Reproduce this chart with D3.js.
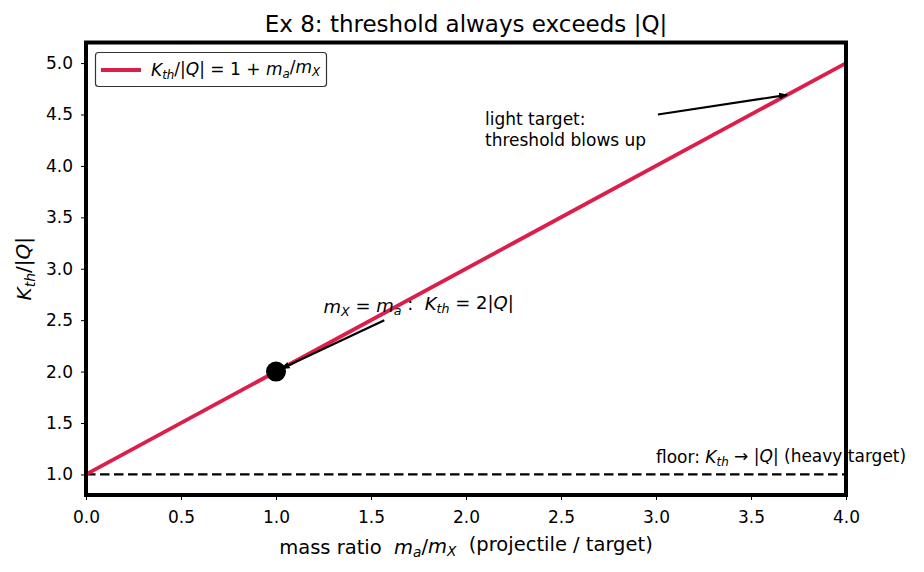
<!DOCTYPE html>
<html>
<head>
<meta charset="utf-8">
<script src="https://cdn.jsdelivr.net/npm/d3@7"></script>
<style>
  body { margin: 0; background: #fff; }
  text { font-family: "DejaVu Sans", sans-serif; fill: #000; white-space: pre; }
  .it { font-style: italic; }
</style>
</head>
<body>
<div class="chart"></div>
<script>
// data
let ratio = [0, 4];
let kth = [1, 5];
let floorVal = [1, 1];
let xTicks = [0, 0.5, 1, 1.5, 2, 2.5, 3, 3.5, 4];
let yTicks = [1, 1.5, 2, 2.5, 3, 3.5, 4, 4.5, 5];
let markPoint = [1, 2];

let width = 924, height = 572;
let margin = {top: 42.5, right: 78, bottom: 77, left: 86};

let svg = d3.select(".chart").append("svg")
    .attr("width", width)
    .attr("height", height);

let xScale = d3.scaleLinear().domain([0, 4]).range([margin.left, width - margin.right]);
let yScale = d3.scaleLinear().domain([0.8, 5.2]).range([height - margin.bottom, margin.top]);

let defs = svg.append("defs");
defs.append("marker")
    .attr("id", "head")
    .attr("viewBox", "0 0 10 10")
    .attr("refX", 9).attr("refY", 5)
    .attr("markerWidth", 4).attr("markerHeight", 4)
    .attr("markerUnits", "strokeWidth")
    .attr("orient", "auto")
    .append("path")
    .attr("d", "M0,1 L10,5 L0,9 Z")
    .attr("fill", "#000");

let line = d3.line().x(d => xScale(d[0])).y(d => yScale(d[1]));

// floor dashed line
svg.append("path")
    .datum(ratio.map((r, i) => [r, floorVal[i]]))
    .attr("d", line)
    .attr("fill", "none")
    .attr("stroke", "#000")
    .attr("stroke-width", 2.2)
    .attr("stroke-dasharray", "9.5,4.5");

// main line
svg.append("path")
    .datum(ratio.map((r, i) => [r, kth[i]]))
    .attr("d", line)
    .attr("fill", "none")
    .attr("stroke", "#dc1e4b")
    .attr("stroke-width", 3.8);

// marker at mX = ma
svg.append("circle")
    .attr("cx", xScale(markPoint[0]))
    .attr("cy", yScale(markPoint[1]))
    .attr("r", 10)
    .attr("fill", "#000");

// axes
let xAxis = d3.axisBottom(xScale).tickValues(xTicks).tickFormat(d3.format(".1f")).tickSize(5).tickPadding(11);
let yAxis = d3.axisLeft(yScale).tickValues(yTicks).tickFormat(d3.format(".1f")).tickSize(5).tickPadding(8);

let gx = svg.append("g")
    .attr("transform", "translate(0," + (height - margin.bottom) + ")")
    .call(xAxis);
let gy = svg.append("g")
    .attr("transform", "translate(" + margin.left + ",0)")
    .call(yAxis);
[gx, gy].forEach(g => {
    g.select(".domain").remove();
    g.selectAll("text").style("font-size", "17px").style("font-family", "DejaVu Sans").attr("fill", "#000");
    g.selectAll("line").attr("stroke", "#000").attr("stroke-width", 1);
});

// frame
svg.append("rect")
    .attr("x", margin.left)
    .attr("y", margin.top)
    .attr("width", width - margin.left - margin.right)
    .attr("height", height - margin.top - margin.bottom)
    .attr("fill", "none")
    .attr("stroke", "#000")
    .attr("stroke-width", 4);

// title
svg.append("text")
    .attr("x", (margin.left + width - margin.right) / 2)
    .attr("y", 32)
    .attr("text-anchor", "middle")
    .style("font-size", "23px")
    .text("Ex 8: threshold always exceeds |Q|");

// helper for mixed math text
function mathText(sel, parts) {
    parts.forEach(p => {
        let t = sel.append("tspan").text(p[0]);
        if (p[1] == "i") t.attr("class", "it");
        if (p[1] == "s") t.attr("class", "it").attr("font-size", "0.7em").attr("dy", "0.25em");
        if (p[2]) t.attr("dy", p[2]);
    });
}

// x label
let xl = svg.append("text")
    .attr("x", (margin.left + width - margin.right) / 2)
    .attr("y", 554)
    .attr("text-anchor", "middle")
    .style("font-size", "19.5px");
mathText(xl, [["mass ratio  "], ["m", "i"], ["a", "s"], ["/", "", "-0.25em"], ["m", "i"], ["X", "s"], ["  (projectile / target)", "", "-0.25em"]]);

// y label
let yl = svg.append("text")
    .attr("transform", "translate(31," + ((margin.top + height - margin.bottom) / 2) + ") rotate(-90)")
    .attr("text-anchor", "middle")
    .style("font-size", "20px");
mathText(yl, [["K", "i"], ["th", "s"], ["/|", "", "-0.25em"], ["Q", "i"], ["|"]]);

// legend
let lg = svg.append("g");
lg.append("rect")
    .attr("x", 95.5).attr("y", 52.5)
    .attr("width", 231).attr("height", 34)
    .attr("rx", 3)
    .attr("fill", "#fff")
    .attr("stroke", "#333")
    .attr("stroke-width", 1.2);
lg.append("line")
    .attr("x1", 101).attr("x2", 141)
    .attr("y1", 70).attr("y2", 70)
    .attr("stroke", "#dc1e4b")
    .attr("stroke-width", 3.8);
let lt = lg.append("text")
    .attr("x", 151).attr("y", 76)
    .style("font-size", "17px");
mathText(lt, [["K", "i"], ["th", "s"], ["/|", "", "-0.25em"], ["Q", "i"], ["| = 1 + "], ["m", "i"], ["a", "s"], ["/", "", "-0.25em"], ["m", "i"], ["X", "s"]]);

// annotation 1
let a1 = svg.append("text")
    .attr("x", xScale(1.25)).attr("y", yScale(2.57))
    .style("font-size", "18px");
mathText(a1, [["m", "i"], ["X", "s"], [" = ", "", "-0.25em"], ["m", "i"], ["a", "s"], [" :  ", "", "-0.25em"], ["K", "i"], ["th", "s"], [" = 2|", "", "-0.25em"], ["Q", "i"], ["|"]]);
svg.append("line")
    .attr("x1", xScale(1.57)).attr("y1", yScale(2.5))
    .attr("x2", xScale(1.03)).attr("y2", yScale(2.03))
    .attr("stroke", "#000").attr("stroke-width", 2.2)
    .attr("marker-end", "url(#head)");

// annotation 2
let a2 = svg.append("text")
    .attr("x", xScale(2.1)).attr("y", yScale(4.4))
    .style("font-size", "17px");
a2.append("tspan").text("light target:");
a2.append("tspan").attr("x", xScale(2.1)).attr("dy", "1.25em").text("threshold blows up");
svg.append("line")
    .attr("x1", xScale(3.01)).attr("y1", yScale(4.5))
    .attr("x2", xScale(3.69)).attr("y2", yScale(4.69))
    .attr("stroke", "#000").attr("stroke-width", 2.2)
    .attr("marker-end", "url(#head)");

// floor annotation
let a3 = svg.append("text")
    .attr("x", xScale(3.0)).attr("y", yScale(1.11))
    .style("font-size", "17px");
mathText(a3, [["floor: "], ["K", "i"], ["th", "s"], [" \u2192 |", "", "-0.25em"], ["Q", "i"], ["| (heavy target)"]]);
</script>
</body>
</html>
